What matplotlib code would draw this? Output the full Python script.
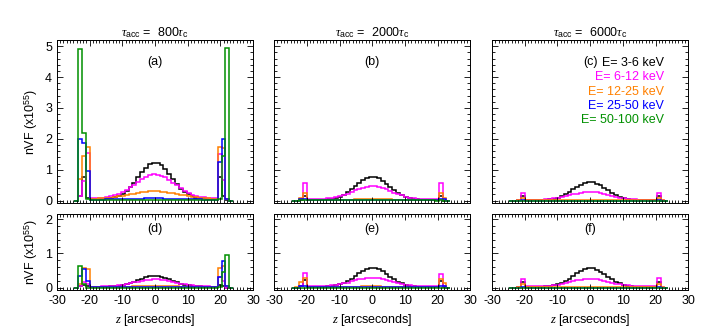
import numpy as np
import matplotlib.pyplot as plt
from matplotlib.ticker import MultipleLocator

plt.rcParams['font.family'] = ['Liberation Sans', 'DejaVu Sans']
plt.rcParams['mathtext.fontset'] = 'custom'
plt.rcParams['mathtext.rm'] = 'Liberation Sans'
plt.rcParams['mathtext.it'] = 'Liberation Serif:italic'
plt.rcParams['axes.unicode_minus'] = False

# bin edges along the loop (arcsec), 41 bins; first and last bins are empty
edges = np.linspace(-24.685, 23.9, 42)

energies = ['E= 3-6 keV', 'E= 6-12 keV', 'E= 12-25 keV', 'E= 25-50 keV', 'E= 50-100 keV']
colors = ['black', '#ff00ff', '#ff8000', '#0000ff', '#009000']
tau_acc = [800, 2000, 6000]
panel_tags = ['(a)', '(b)', '(c)', '(d)', '(e)', '(f)']

# ---- panel (a) ----
a_black = [0.15, 0.75, 0.10,
           0.05, 0.05, 0.05, 0.06, 0.07, 0.09, 0.12, 0.16, 0.23, 0.31, 0.43,
           0.58, 0.75, 0.92, 1.06, 1.17, 1.23, 1.21, 1.14, 1.01, 0.85, 0.69,
           0.53, 0.39, 0.28, 0.20, 0.14, 0.10, 0.08, 0.07, 0.06, 0.05, 0.05,
           0.75, 0.15, 0.02]
a_magenta = [0.15, 0.62, 1.55,
             0.08, 0.08, 0.09, 0.10, 0.12, 0.14, 0.17, 0.22, 0.27, 0.34, 0.43,
             0.52, 0.61, 0.70, 0.77, 0.82, 0.85, 0.84, 0.81, 0.75, 0.67, 0.58,
             0.49, 0.40, 0.32, 0.25, 0.19, 0.16, 0.13, 0.11, 0.10, 0.09, 0.08,
             1.50, 0.68, 0.05]
a_orange = [0.70, 1.45, 1.75,
            0.05, 0.06, 0.07, 0.08, 0.09, 0.10, 0.12, 0.14, 0.16, 0.18, 0.20,
            0.23, 0.25, 0.27, 0.29, 0.30, 0.30, 0.30, 0.29, 0.28, 0.26, 0.24,
            0.22, 0.19, 0.17, 0.15, 0.13, 0.11, 0.10, 0.08, 0.07, 0.06, 0.05,
            1.75, 1.70, 0.05]
a_blue = [2.00, 1.85, 0.95,
          0.03, 0.03, 0.03, 0.03, 0.04, 0.04, 0.04, 0.04, 0.05, 0.05, 0.05,
          0.06, 0.06, 0.06, 0.07, 0.07, 0.07, 0.07, 0.07, 0.06, 0.06, 0.06,
          0.05, 0.05, 0.05, 0.04, 0.04, 0.04, 0.04, 0.03, 0.03, 0.03, 0.03,
          1.25, 2.00, 0.05]
a_green = [4.90, 2.20, 0.05,
           0.02, 0.02, 0.02, 0.02, 0.02, 0.02, 0.02, 0.02, 0.03, 0.03, 0.03,
           0.03, 0.03, 0.03, 0.03, 0.03, 0.03, 0.03, 0.03, 0.03, 0.03, 0.03,
           0.03, 0.03, 0.03, 0.02, 0.02, 0.02, 0.02, 0.02, 0.02, 0.02, 0.02,
           0.05, 1.45, 4.95]

# ---- panel (b) ----
b_black = [0.00, 0.02, 0.15,
           0.02, 0.02, 0.02, 0.02, 0.03, 0.04, 0.06, 0.09, 0.13, 0.19, 0.27,
           0.36, 0.47, 0.58, 0.67, 0.74, 0.78, 0.77, 0.72, 0.64, 0.54, 0.44,
           0.33, 0.24, 0.17, 0.11, 0.07, 0.05, 0.04, 0.03, 0.02, 0.02, 0.02,
           0.02, 0.15, 0.00]
b_magenta = [0.00, 0.05, 0.58,
             0.04, 0.04, 0.04, 0.05, 0.06, 0.07, 0.08, 0.11, 0.14, 0.18, 0.23,
             0.28, 0.33, 0.38, 0.42, 0.45, 0.46, 0.46, 0.44, 0.40, 0.36, 0.31,
             0.26, 0.21, 0.17, 0.13, 0.10, 0.08, 0.06, 0.05, 0.05, 0.04, 0.04,
             0.04, 0.58, 0.03]
b_orange = [0.00, 0.07, 0.25,
            0.02, 0.02, 0.02, 0.02, 0.02, 0.02, 0.02, 0.02, 0.03, 0.03, 0.03,
            0.03, 0.04, 0.04, 0.04, 0.05, 0.05, 0.05, 0.05, 0.04, 0.04, 0.04,
            0.03, 0.03, 0.03, 0.03, 0.02, 0.02, 0.02, 0.02, 0.02, 0.02, 0.02,
            0.02, 0.25, 0.07]
b_blue = [0.00, 0.04, 0.05,
          0.02, 0.02, 0.02, 0.02, 0.02, 0.02, 0.02, 0.02, 0.02, 0.02, 0.02,
          0.02, 0.02, 0.02, 0.02, 0.02, 0.02, 0.02, 0.02, 0.02, 0.02, 0.02,
          0.02, 0.02, 0.02, 0.02, 0.02, 0.02, 0.02, 0.02, 0.02, 0.02, 0.02,
          0.02, 0.06, 0.04]
b_green = [0.00, 0.01, 0.01,
           0.01, 0.01, 0.01, 0.01, 0.01, 0.01, 0.01, 0.01, 0.01, 0.01, 0.01,
           0.01, 0.01, 0.01, 0.01, 0.01, 0.01, 0.01, 0.01, 0.01, 0.01, 0.01,
           0.01, 0.01, 0.01, 0.01, 0.01, 0.01, 0.01, 0.01, 0.01, 0.01, 0.01,
           0.00, 0.01, 0.00]

# ---- panel (c) ----
c_black = [0.00, 0.02, 0.15,
           0.02, 0.02, 0.02, 0.02, 0.02, 0.03, 0.04, 0.06, 0.09, 0.14, 0.20,
           0.28, 0.36, 0.45, 0.51, 0.57, 0.60, 0.59, 0.55, 0.49, 0.41, 0.33,
           0.25, 0.18, 0.12, 0.08, 0.05, 0.03, 0.02, 0.02, 0.02, 0.02, 0.02,
           0.02, 0.15, 0.00]
c_magenta = [0.00, 0.03, 0.25,
             0.03, 0.03, 0.03, 0.03, 0.03, 0.04, 0.05, 0.07, 0.09, 0.11, 0.14,
             0.17, 0.20, 0.23, 0.25, 0.27, 0.28, 0.28, 0.27, 0.25, 0.22, 0.19,
             0.16, 0.13, 0.10, 0.08, 0.06, 0.05, 0.04, 0.03, 0.03, 0.03, 0.03,
             0.03, 0.25, 0.02]
c_orange = [0.00, 0.02, 0.08,
            0.01, 0.01, 0.01, 0.01, 0.01, 0.01, 0.01, 0.01, 0.02, 0.02, 0.02,
            0.02, 0.02, 0.02, 0.02, 0.02, 0.02, 0.02, 0.02, 0.02, 0.02, 0.02,
            0.02, 0.02, 0.02, 0.01, 0.01, 0.01, 0.01, 0.01, 0.01, 0.01, 0.01,
            0.01, 0.08, 0.01]
c_blue = [0.00, 0.00, 0.01,
          0.00, 0.00, 0.00, 0.00, 0.00, 0.00, 0.00, 0.00, 0.00, 0.00, 0.00,
          0.00, 0.00, 0.00, 0.00, 0.00, 0.00, 0.00, 0.00, 0.00, 0.00, 0.00,
          0.00, 0.00, 0.00, 0.00, 0.00, 0.00, 0.00, 0.00, 0.00, 0.00, 0.00,
          0.00, 0.01, 0.00]
c_green = [0.00, 0.00, 0.00,
           0.00, 0.00, 0.00, 0.00, 0.00, 0.00, 0.00, 0.00, 0.00, 0.00, 0.00,
           0.00, 0.00, 0.00, 0.00, 0.00, 0.00, 0.00, 0.00, 0.00, 0.00, 0.00,
           0.00, 0.00, 0.00, 0.00, 0.00, 0.00, 0.00, 0.00, 0.00, 0.00, 0.00,
           0.00, 0.00, 0.00]

# ---- panel (d) ----
d_black = [0.05, 0.08, 0.05,
           0.02, 0.02, 0.02, 0.02, 0.02, 0.03, 0.04, 0.05, 0.07, 0.09, 0.13,
           0.17, 0.22, 0.26, 0.30, 0.33, 0.35, 0.35, 0.32, 0.29, 0.24, 0.20,
           0.15, 0.11, 0.08, 0.06, 0.04, 0.03, 0.03, 0.02, 0.02, 0.02, 0.02,
           0.08, 0.05, 0.00]
d_magenta = [0.05, 0.15, 0.10,
             0.02, 0.02, 0.02, 0.03, 0.03, 0.04, 0.05, 0.06, 0.08, 0.10, 0.12,
             0.15, 0.17, 0.20, 0.22, 0.23, 0.24, 0.24, 0.23, 0.21, 0.19, 0.16,
             0.14, 0.11, 0.09, 0.07, 0.06, 0.04, 0.04, 0.03, 0.03, 0.02, 0.02,
             0.30, 0.20, 0.00]
d_orange = [0.10, 0.58, 0.55,
            0.01, 0.01, 0.01, 0.01, 0.01, 0.01, 0.01, 0.01, 0.02, 0.02, 0.02,
            0.03, 0.03, 0.04, 0.04, 0.04, 0.05, 0.05, 0.04, 0.04, 0.04, 0.03,
            0.03, 0.02, 0.02, 0.02, 0.01, 0.01, 0.01, 0.01, 0.01, 0.01, 0.01,
            0.57, 0.62, 0.05]
d_blue = [0.35, 0.55, 0.20,
          0.01, 0.01, 0.01, 0.01, 0.01, 0.01, 0.01, 0.01, 0.01, 0.01, 0.01,
          0.01, 0.01, 0.01, 0.01, 0.01, 0.01, 0.01, 0.01, 0.01, 0.01, 0.01,
          0.01, 0.01, 0.01, 0.01, 0.01, 0.01, 0.01, 0.01, 0.01, 0.01, 0.01,
          0.30, 0.78, 0.05]
d_green = [0.63, 0.10, 0.00,
           0.00, 0.00, 0.00, 0.00, 0.00, 0.00, 0.00, 0.00, 0.00, 0.00, 0.00,
           0.00, 0.00, 0.00, 0.00, 0.00, 0.00, 0.00, 0.00, 0.00, 0.00, 0.00,
           0.00, 0.00, 0.00, 0.00, 0.00, 0.00, 0.00, 0.00, 0.00, 0.00, 0.00,
           0.02, 0.45, 0.94]

# ---- panel (e) ----
e_black = [0.00, 0.05, 0.22,
           0.02, 0.02, 0.02, 0.02, 0.02, 0.03, 0.04, 0.06, 0.09, 0.13, 0.19,
           0.26, 0.34, 0.42, 0.49, 0.54, 0.57, 0.56, 0.53, 0.47, 0.39, 0.32,
           0.24, 0.17, 0.12, 0.08, 0.05, 0.03, 0.02, 0.02, 0.02, 0.02, 0.02,
           0.02, 0.20, 0.02]
e_magenta = [0.00, 0.05, 0.42,
             0.03, 0.03, 0.03, 0.03, 0.04, 0.05, 0.06, 0.07, 0.09, 0.12, 0.14,
             0.18, 0.21, 0.24, 0.26, 0.28, 0.29, 0.29, 0.28, 0.25, 0.22, 0.20,
             0.16, 0.13, 0.11, 0.08, 0.07, 0.05, 0.04, 0.04, 0.03, 0.03, 0.03,
             0.03, 0.40, 0.05]
e_orange = [0.02, 0.15, 0.27,
            0.01, 0.01, 0.01, 0.01, 0.01, 0.01, 0.01, 0.01, 0.02, 0.02, 0.02,
            0.02, 0.02, 0.02, 0.03, 0.03, 0.03, 0.03, 0.03, 0.02, 0.02, 0.02,
            0.02, 0.02, 0.02, 0.01, 0.01, 0.01, 0.01, 0.01, 0.01, 0.01, 0.01,
            0.02, 0.25, 0.12]
e_blue = [0.00, 0.03, 0.05,
          0.01, 0.01, 0.01, 0.01, 0.01, 0.01, 0.01, 0.01, 0.01, 0.01, 0.01,
          0.01, 0.01, 0.01, 0.01, 0.01, 0.01, 0.01, 0.01, 0.01, 0.01, 0.01,
          0.01, 0.01, 0.01, 0.01, 0.01, 0.01, 0.01, 0.01, 0.01, 0.01, 0.01,
          0.01, 0.05, 0.03]
e_green = [0.00, 0.00, 0.00,
           0.00, 0.00, 0.00, 0.00, 0.00, 0.00, 0.00, 0.00, 0.00, 0.00, 0.00,
           0.00, 0.00, 0.00, 0.00, 0.00, 0.00, 0.00, 0.00, 0.00, 0.00, 0.00,
           0.00, 0.00, 0.00, 0.00, 0.00, 0.00, 0.00, 0.00, 0.00, 0.00, 0.00,
           0.00, 0.00, 0.00]

# ---- panel (f) ----
f_black = [0.00, 0.02, 0.15,
           0.02, 0.02, 0.02, 0.02, 0.02, 0.03, 0.04, 0.06, 0.09, 0.13, 0.19,
           0.26, 0.34, 0.42, 0.49, 0.55, 0.57, 0.56, 0.52, 0.46, 0.39, 0.31,
           0.24, 0.17, 0.12, 0.08, 0.05, 0.03, 0.02, 0.02, 0.02, 0.02, 0.02,
           0.02, 0.16, 0.00]
f_magenta = [0.00, 0.02, 0.24,
             0.03, 0.03, 0.03, 0.03, 0.03, 0.04, 0.05, 0.06, 0.08, 0.10, 0.12,
             0.15, 0.18, 0.21, 0.23, 0.24, 0.25, 0.25, 0.24, 0.22, 0.19, 0.17,
             0.14, 0.11, 0.09, 0.07, 0.06, 0.05, 0.04, 0.03, 0.03, 0.03, 0.03,
             0.03, 0.27, 0.02]
f_orange = [0.00, 0.02, 0.10,
            0.01, 0.01, 0.01, 0.01, 0.01, 0.01, 0.01, 0.01, 0.01, 0.01, 0.02,
            0.02, 0.02, 0.02, 0.02, 0.02, 0.02, 0.02, 0.02, 0.02, 0.02, 0.02,
            0.02, 0.01, 0.01, 0.01, 0.01, 0.01, 0.01, 0.01, 0.01, 0.01, 0.01,
            0.01, 0.10, 0.01]
f_blue = [0.00, 0.00, 0.01,
          0.00, 0.00, 0.00, 0.00, 0.00, 0.00, 0.00, 0.00, 0.00, 0.00, 0.00,
          0.00, 0.00, 0.00, 0.00, 0.00, 0.00, 0.00, 0.00, 0.00, 0.00, 0.00,
          0.00, 0.00, 0.00, 0.00, 0.00, 0.00, 0.00, 0.00, 0.00, 0.00, 0.00,
          0.00, 0.01, 0.00]
f_green = [0.00, 0.00, 0.00,
           0.00, 0.00, 0.00, 0.00, 0.00, 0.00, 0.00, 0.00, 0.00, 0.00, 0.00,
           0.00, 0.00, 0.00, 0.00, 0.00, 0.00, 0.00, 0.00, 0.00, 0.00, 0.00,
           0.00, 0.00, 0.00, 0.00, 0.00, 0.00, 0.00, 0.00, 0.00, 0.00, 0.00,
           0.00, 0.00, 0.00]

panels = [
    [a_black, a_magenta, a_orange, a_blue, a_green],
    [b_black, b_magenta, b_orange, b_blue, b_green],
    [c_black, c_magenta, c_orange, c_blue, c_green],
    [d_black, d_magenta, d_orange, d_blue, d_green],
    [e_black, e_magenta, e_orange, e_blue, e_green],
    [f_black, f_magenta, f_orange, f_blue, f_green],
]

fig = plt.figure(figsize=(7.03, 3.34), dpi=100)

lefts = [0.081, 0.390, 0.700]
width = 0.279
rows = [(0.392, 0.488), (0.132, 0.227)]
ylims = [(-0.08, 5.2), (-0.07, 2.15)]
fs = 9

for i in range(6):
    r, c = divmod(i, 3)
    bottom, height = rows[r]
    ax = fig.add_axes([lefts[c], bottom, width, height])
    for vals, col in zip(panels[i], colors):
        ax.stairs(np.r_[0.0, vals, 0.0], edges, color=col, lw=1.1, baseline=None)

    ax.set_xlim(-30, 30)
    ax.set_ylim(*ylims[r])
    ax.xaxis.set_major_locator(MultipleLocator(10))
    ax.xaxis.set_minor_locator(MultipleLocator(1))
    ax.yaxis.set_major_locator(MultipleLocator(1))
    ax.yaxis.set_minor_locator(MultipleLocator(0.2))
    ax.tick_params(which='both', direction='in', top=True, right=True,
                   labelsize=fs, width=0.6)
    ax.tick_params(which='major', length=4)
    ax.tick_params(which='minor', length=2)
    for sp in ax.spines.values():
        sp.set_linewidth(0.7)

    if c == 0:
        ax.set_ylabel('nVF (x10$^{55}$)', fontsize=fs)
    else:
        ax.set_yticklabels([])
    if r == 0:
        ax.set_xticklabels([])
        ax.set_title(r'$\tau_{\rm acc}$ =  ' + str(tau_acc[c]) + r'$\tau_{\rm c}$',
                     fontsize=fs, pad=3)
        tag_y = 0.865
    else:
        ax.set_xlabel(r'$z$ [arcseconds]', fontsize=fs)
        tag_y = 0.80
    ax.text(0.5, tag_y, panel_tags[i], transform=ax.transAxes,
            ha='center', va='center', fontsize=fs)

    if i == 2:
        for k, (lab, col) in enumerate(zip(energies, colors)):
            ax.text(0.878, 0.859 - k * 0.0875, lab, color=col, transform=ax.transAxes,
                    ha='right', va='center', fontsize=fs)

fig.savefig('out.png', dpi=100)
